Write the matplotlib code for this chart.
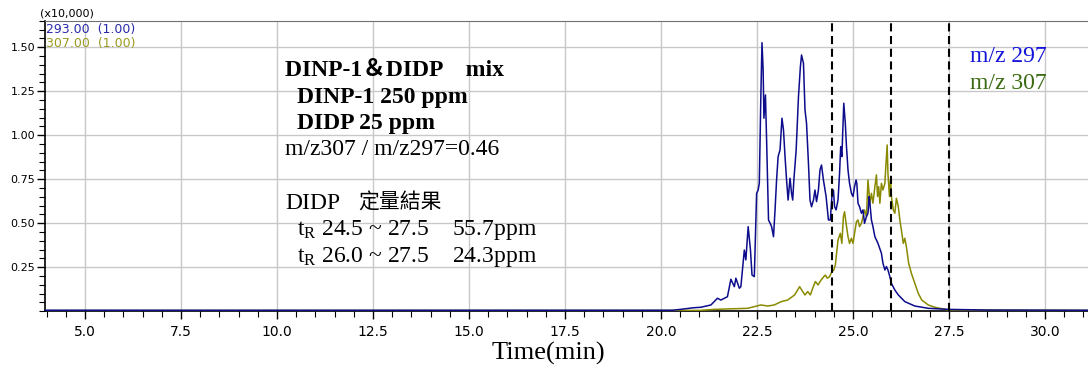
import matplotlib
matplotlib.use("Agg")
import matplotlib.pyplot as plt
from matplotlib.ticker import MultipleLocator

# ---------------- data ----------------
blue_t = [3.96, 20.30, 20.51, 20.84, 21.04, 21.30, 21.47, 21.56, 21.73, 21.82, 21.91, 21.95, 22.04, 22.08,
          22.17, 22.21, 22.27, 22.33, 22.37, 22.43, 22.49, 22.53, 22.56, 22.60, 22.63, 22.66, 22.68,
          22.72, 22.75, 22.80, 22.84, 22.88, 22.93, 22.97, 23.01, 23.05, 23.10, 23.15, 23.19, 23.23,
          23.27, 23.31, 23.36, 23.40, 23.43, 23.46, 23.52, 23.58, 23.63, 23.66, 23.71, 23.75, 23.79,
          23.84, 23.88, 23.92, 23.97, 24.01, 24.05, 24.10, 24.14, 24.18, 24.23, 24.30, 24.36, 24.41,
          24.45, 24.49, 24.52, 24.56, 24.61, 24.65, 24.68, 24.71, 24.76, 24.80, 24.83, 24.87, 24.91,
          24.96, 25.00, 25.04, 25.08, 25.10, 25.13, 25.17, 25.22, 25.26, 25.30, 25.35, 25.39, 25.42,
          25.44, 25.48, 25.52, 25.57, 25.65, 25.74, 25.78, 25.83, 25.87, 25.91, 25.96, 26.00, 26.09,
          26.18, 26.35, 26.61, 26.96, 27.48, 28.50, 31.12]
blue_v = [0.006, 0.006, 0.011, 0.020, 0.023, 0.036, 0.074, 0.064, 0.083, 0.182, 0.140, 0.188, 0.131, 0.140,
          0.348, 0.292, 0.481, 0.348, 0.206, 0.197, 0.670, 0.689, 0.727, 1.219, 1.526, 1.371, 1.097,
          1.229, 0.973, 0.519, 0.501, 0.481, 0.424, 0.576, 0.746, 0.879, 0.917, 1.097, 1.030, 0.879,
          0.746, 0.632, 0.756, 0.670, 0.632, 0.746, 0.917, 1.219, 1.390, 1.456, 1.409, 1.144, 1.068,
          0.841, 0.632, 0.594, 0.632, 0.689, 0.623, 0.689, 0.803, 0.831, 0.746, 0.651, 0.519, 0.519,
          0.652, 0.689, 0.595, 0.576, 0.633, 0.784, 0.936, 0.879, 1.182, 1.068, 0.936, 0.803, 0.727,
          0.670, 0.652, 0.708, 0.746, 0.727, 0.614, 0.595, 0.557, 0.576, 0.500, 0.538, 0.557, 0.652,
          0.614, 0.519, 0.481, 0.424, 0.386, 0.330, 0.273, 0.235, 0.254, 0.235, 0.197, 0.159, 0.121,
          0.093, 0.055, 0.030, 0.017, 0.011, 0.007, 0.006]

olive_t = [3.96, 21.00, 21.39, 22.26, 22.60, 22.78, 22.95, 23.13, 23.30, 23.48, 23.61, 23.69, 23.75, 23.82,
           23.89, 23.95, 24.02, 24.09, 24.17, 24.24, 24.28, 24.33, 24.39, 24.45, 24.50, 24.54, 24.61,
           24.67, 24.71, 24.75, 24.78, 24.82, 24.87, 24.91, 24.96, 25.00, 25.04, 25.09, 25.13, 25.17,
           25.22, 25.26, 25.30, 25.35, 25.39, 25.44, 25.48, 25.52, 25.57, 25.61, 25.64, 25.67, 25.70,
           25.74, 25.78, 25.83, 25.86, 25.89, 25.91, 25.95, 25.98, 26.00, 26.05, 26.09, 26.13, 26.18,
           26.22, 26.26, 26.31, 26.35, 26.39, 26.45, 26.52, 26.61, 26.70, 26.79, 26.96, 27.13, 27.40,
           27.48, 31.12]
olive_v = [0.004, 0.005, 0.011, 0.017, 0.036, 0.030, 0.036, 0.055, 0.064, 0.093, 0.140, 0.112, 0.093, 0.112,
           0.093, 0.131, 0.169, 0.150, 0.178, 0.197, 0.206, 0.188, 0.197, 0.225, 0.235, 0.263, 0.405,
           0.443, 0.386, 0.538, 0.566, 0.500, 0.424, 0.386, 0.415, 0.386, 0.443, 0.509, 0.519, 0.481,
           0.500, 0.538, 0.576, 0.538, 0.746, 0.614, 0.670, 0.614, 0.708, 0.775, 0.652, 0.708, 0.614,
           0.727, 0.689, 0.727, 0.841, 0.945, 0.784, 0.652, 0.756, 0.652, 0.576, 0.557, 0.642, 0.595,
           0.519, 0.462, 0.386, 0.415, 0.367, 0.273, 0.216, 0.159, 0.102, 0.064, 0.036, 0.023, 0.011,
           0.008, 0.005]

window_lines = [24.45, 26.0, 27.5]
x_major = [5.0, 7.5, 10.0, 12.5, 15.0, 17.5, 20.0, 22.5, 25.0, 27.5, 30.0]
y_major = [0.25, 0.50, 0.75, 1.00, 1.25, 1.50]

# ---------------- figure ----------------
W, H = 1088, 370
fig = plt.figure(figsize=(W / 100, H / 100), dpi=100)
plt.rcParams['mathtext.fontset'] = 'custom'
plt.rcParams['mathtext.rm'] = 'Liberation Serif'
plt.rcParams['mathtext.it'] = 'Liberation Serif:italic'

def fx(px):
    return px / W

def fy(py):
    return 1 - py / H

ax = fig.add_axes([fx(45), fy(311.3), fx(1088) - fx(45), fy(20.7) - fy(311.3)])
ax.set_xlim(3.958, 31.12)
ax.set_ylim(0, 1.651)

ax.set_xticks(x_major)
ax.set_xticklabels([f"{v:.1f}" for v in x_major])
ax.xaxis.set_minor_locator(MultipleLocator(0.5))
ax.set_yticks(y_major)
ax.set_yticklabels([f"{v:.2f}" for v in y_major])
ax.yaxis.set_minor_locator(MultipleLocator(0.05))

ax.grid(True, which='major', color='#c8c8c8', linewidth=1.0)
ax.set_axisbelow(True)

ax.tick_params(axis='x', which='major', length=6, width=1, direction='out', labelsize=10,
               colors='black', pad=4)
ax.tick_params(axis='x', which='minor', length=4, width=0.8, direction='out')
ax.tick_params(axis='y', which='major', length=6, width=1, direction='out', labelsize=8, pad=1)
ax.tick_params(axis='y', which='minor', length=4, width=0.8, direction='out')
for lab in ax.get_xticklabels() + ax.get_yticklabels():
    lab.set_fontfamily('DejaVu Sans')

ax.spines['top'].set_color('#707070')
ax.spines['right'].set_visible(False)
ax.spines['left'].set_linewidth(1.2)
ax.spines['bottom'].set_linewidth(1.2)

ax.plot(olive_t, olive_v, color='#8a8a00', linewidth=1.1, zorder=3)
ax.plot(blue_t, blue_v, color='#0c0c8c', linewidth=1.1, zorder=4)

for xv in window_lines:
    ax.axvline(xv, color='black', linewidth=1.5, linestyle=(0, (3.9, 2.2)), zorder=5)

# ---------- header labels ----------
fig.text(fx(40), fy(14), "(x10,000)", fontsize=8, family='DejaVu Sans', va='center', ha='left')
fig.text(fx(46), fy(30), "293.00  (1.00)", fontsize=9, family='DejaVu Sans', color='#2a2aa8',
         va='center', ha='left')
fig.text(fx(46), fy(44), "307.00  (1.00)", fontsize=9, family='DejaVu Sans', color='#9a9a20',
         va='center', ha='left')

# ---------- annotation block ----------
serif = ['Liberation Serif', 'Noto Sans CJK TC']
fs = 17
fig.text(fx(285), fy(76), "DINP-1\uff06DIDP    mix", fontsize=fs, family=serif, weight='bold',
         va='baseline', ha='left')
fig.text(fx(297), fy(102.7), "DINP-1 250 ppm", fontsize=fs, family=serif, weight='bold',
         va='baseline', ha='left')
fig.text(fx(297), fy(129), "DIDP 25 ppm", fontsize=fs, family=serif, weight='bold',
         va='baseline', ha='left')
fig.text(fx(285), fy(155), "m/z307 / m/z297=0.46", fontsize=fs, family=serif,
         va='baseline', ha='left')
fig.text(fx(285), fy(209), "DIDP", fontsize=fs, family=serif, va='baseline', ha='left')
fig.text(fx(358), fy(209), "定量結果", fontsize=15, family=['Noto Sans CJK TC'],
         va='baseline', ha='left')
fig.text(fx(297), fy(235), r"t$_{\mathrm{R}}$ 24.5 ~ 27.5    55.7ppm", fontsize=fs, family=serif,
         va='baseline', ha='left')
fig.text(fx(297), fy(261.7), r"t$_{\mathrm{R}}$ 26.0 ~ 27.5    24.3ppm", fontsize=fs, family=serif,
         va='baseline', ha='left')

fig.text(fx(970), fy(62.5), "m/z 297", fontsize=fs, family=serif, color='#1414d8',
         va='baseline', ha='left')
fig.text(fx(970), fy(89), "m/z 307", fontsize=fs, family=serif, color='#3a6b12',
         va='baseline', ha='left')

fig.text(fx(548), fy(360), "Time(min)", fontsize=19, family='Liberation Serif',
         va='baseline', ha='center')

fig.savefig("out.png", dpi=100)
